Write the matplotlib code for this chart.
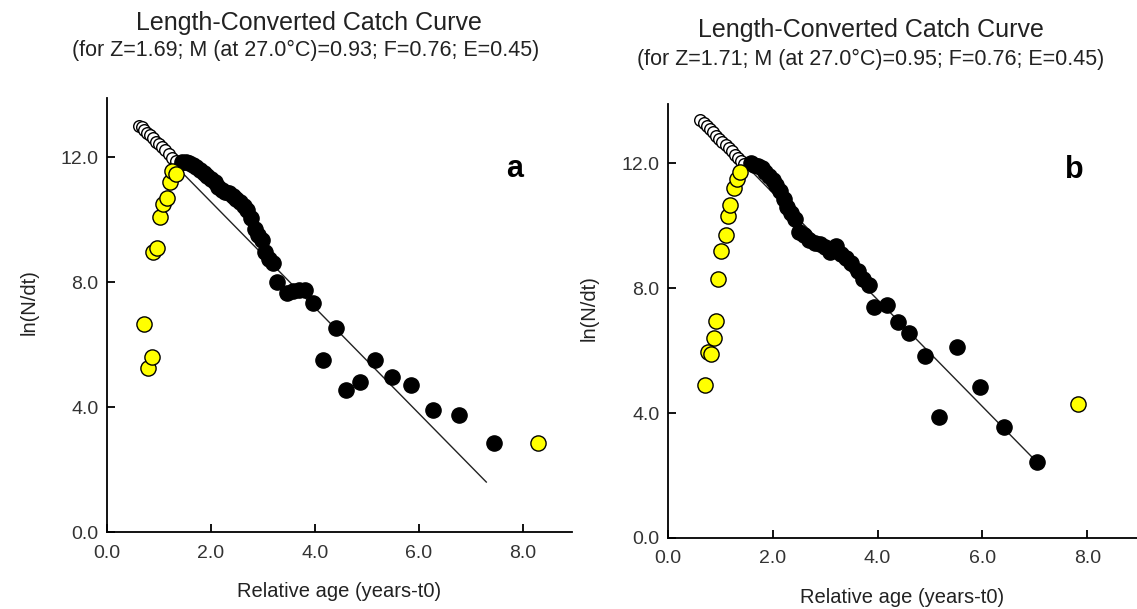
import matplotlib
matplotlib.use('Agg')
import matplotlib.pyplot as plt

plt.rcParams['font.family'] = ['Liberation Sans', 'DejaVu Sans']

# panel a
a_open_x = [0.62, 0.67, 0.72, 0.77, 0.83, 0.88, 0.94, 1.0, 1.06, 1.12, 1.19, 1.26, 1.33, 1.4]
a_open_y = [13.0, 12.95, 12.87, 12.78, 12.7, 12.6, 12.5, 12.42, 12.32, 12.22, 12.1, 11.98, 11.88, 11.75]
a_yel_x = [0.72, 0.78, 0.86, 0.88, 0.96, 1.02, 1.08, 1.15, 1.22, 1.25, 1.33, 8.3]
a_yel_y = [6.65, 5.25, 5.6, 8.95, 9.1, 10.1, 10.5, 10.7, 11.2, 11.55, 11.45, 2.85]
a_blk_x = [1.45, 1.52, 1.58, 1.65, 1.72, 1.79, 1.86, 1.93, 2.0, 2.07, 2.14, 2.21, 2.28, 2.35,
           2.42, 2.49, 2.56, 2.63, 2.7, 2.77, 2.84, 2.91, 2.98, 3.05, 3.12, 3.2, 3.28,
           3.46, 3.58, 3.7, 3.82, 3.96, 4.15, 4.4, 4.6, 4.87, 5.15, 5.48, 5.86, 6.27, 6.77, 7.44]
a_blk_y = [11.85, 11.85, 11.8, 11.74, 11.7, 11.6, 11.5, 11.4, 11.3, 11.2, 11.05, 10.95, 10.9, 10.85,
           10.75, 10.65, 10.55, 10.45, 10.3, 10.05, 9.7, 9.5, 9.35, 8.95, 8.75, 8.6, 8.0,
           7.65, 7.72, 7.75, 7.75, 7.33, 5.5, 6.53, 4.54, 4.8, 5.5, 4.96, 4.7, 3.9, 3.74, 2.85]
a_line_x = [1.45, 7.3]
a_line_y = [11.5, 1.6]

# panel b
b_open_x = [0.62, 0.68, 0.74, 0.8, 0.86, 0.92, 0.98, 1.04, 1.1, 1.16, 1.22, 1.28, 1.34, 1.4, 1.46]
b_open_y = [13.38, 13.3, 13.2, 13.1, 13.0, 12.88, 12.78, 12.68, 12.58, 12.48, 12.38, 12.27, 12.17, 12.07, 11.97]
b_yel_x = [0.7, 0.76, 0.82, 0.87, 0.92, 0.96, 1.02, 1.1, 1.15, 1.19, 1.26, 1.32, 1.38, 7.83]
b_yel_y = [4.9, 5.95, 5.9, 6.4, 6.95, 8.3, 9.2, 9.7, 10.3, 10.65, 11.2, 11.5, 11.7, 4.28]
b_blk_x = [1.58, 1.65, 1.72, 1.79, 1.86, 1.93, 2.0, 2.07, 2.14, 2.21, 2.28, 2.35, 2.42, 2.5,
           2.6, 2.7, 2.8, 2.9, 3.0, 3.1, 3.2, 3.3, 3.4, 3.5, 3.62, 3.73, 3.84, 3.94,
           4.17, 4.38, 4.6, 4.9, 5.17, 5.52, 5.96, 6.42, 7.04]
b_blk_y = [12.0, 11.95, 11.92, 11.85, 11.7, 11.6, 11.45, 11.3, 11.1, 10.85, 10.6, 10.4, 10.2, 9.8,
           9.7, 9.55, 9.45, 9.4, 9.3, 9.15, 9.35, 9.1, 8.95, 8.8, 8.55, 8.3, 8.1, 7.4,
           7.45, 6.9, 6.56, 5.82, 3.87, 6.1, 4.83, 3.55, 2.43]
b_line_x = [1.6, 7.04]
b_line_y = [11.73, 2.43]

ticks_x = [0, 2, 4, 6, 8]
ticks_y = [0, 4, 8, 12]

titles = ['(for Z=1.69; M (at 27.0\u00b0C)=0.93; F=0.76; E=0.45)',
          '(for Z=1.71; M (at 27.0\u00b0C)=0.95; F=0.76; E=0.45)']
letters = ['a', 'b']
letter_pos = [(0.877, 0.835), (0.866, 0.848)]

fig = plt.figure(figsize=(11.37, 6.09), dpi=100)
ax_a = fig.add_axes([0.0941, 0.1264, 0.409, 0.713])
ax_b = fig.add_axes([0.5875, 0.1166, 0.4125, 0.713])

panels = [
    (ax_a, a_open_x, a_open_y, a_yel_x, a_yel_y, a_blk_x, a_blk_y, a_line_x, a_line_y),
    (ax_b, b_open_x, b_open_y, b_yel_x, b_yel_y, b_blk_x, b_blk_y, b_line_x, b_line_y),
]

for i, (ax, ox, oy, yx, yy, bx, by, lx, ly) in enumerate(panels):
    ax.plot(lx, ly, color='#222222', lw=1, zorder=2)
    ax.scatter(ox, oy, s=70, facecolor='white', edgecolor='black', linewidths=1.0, zorder=3)
    ax.scatter(bx, by, s=120, facecolor='black', edgecolor='black', zorder=4)
    ax.scatter(yx, yy, s=120, facecolor='#ffff00', edgecolor='black', linewidths=1, zorder=5)

    ax.set_xlim(0, 8.95)
    ax.set_ylim(0, 13.9)
    ax.set_xticks(ticks_x)
    ax.set_xticklabels(['%.1f' % t for t in ticks_x])
    ax.set_yticks(ticks_y)
    ax.set_yticklabels(['%.1f' % t for t in ticks_y])
    ax.spines['top'].set_visible(False)
    ax.spines['right'].set_visible(False)
    ax.spines['left'].set_linewidth(1.3)
    ax.spines['bottom'].set_linewidth(1.3)
    ax.tick_params(direction='in', length=6, width=1.3, labelsize=14, colors='black')
    ax.tick_params(axis='x', pad=9)
    ax.tick_params(axis='y', pad=6)
    for lab in ax.get_xticklabels() + ax.get_yticklabels():
        lab.set_color('#333333')

    ax.set_xlabel('Relative age (years-t0)', fontsize=14.5, color='#222222')
    ax.set_ylabel('ln(N/dt)', fontsize=14.5, color='#222222')
    ax.xaxis.set_label_coords(0.5, -0.115)
    ax.yaxis.set_label_coords(-0.148, 0.53)

    ax.text(letter_pos[i][0], letter_pos[i][1], letters[i], transform=ax.transAxes, fontsize=22,
            fontweight='bold', ha='center', va='center')

fig.text(0.272, 0.962, 'Length-Converted Catch Curve', fontsize=18, ha='center', va='center', color='#222222')
fig.text(0.269, 0.918, titles[0], fontsize=15.5, ha='center', va='center', color='#222222')
fig.text(0.766, 0.950, 'Length-Converted Catch Curve', fontsize=18, ha='center', va='center', color='#222222')
fig.text(0.766, 0.903, titles[1], fontsize=15.5, ha='center', va='center', color='#222222')

fig.savefig('out.png', dpi=100)
